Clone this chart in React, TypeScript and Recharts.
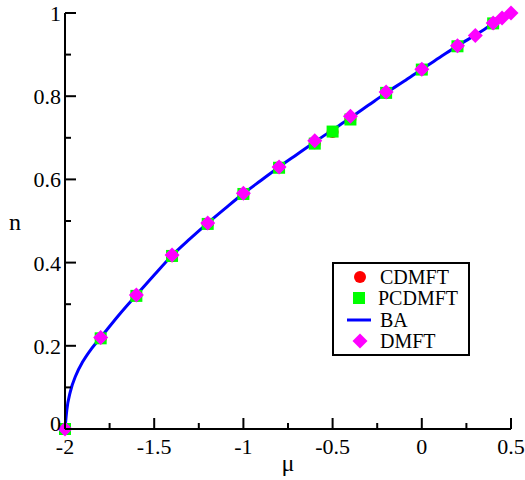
import React from 'react';
import { ComposedChart, Line, Scatter, XAxis, YAxis, Legend } from 'recharts';

// values
const cdmftMu = [-2, -1.8, -1.6, -1.4, -1.2, -1.0, -0.8, -0.6, -0.5, -0.4, -0.2, 0, 0.2, 0.4];
const cdmftN = [0, 0.218, 0.321, 0.415, 0.493, 0.565, 0.629, 0.687, 0.714, 0.745, 0.808, 0.864, 0.92, 0.975];
const pcdmftMu = [-2, -1.8, -1.6, -1.4, -1.2, -1.0, -0.8, -0.6, -0.5, -0.4, -0.2, 0, 0.2, 0.4];
const pcdmftN = [0, 0.218, 0.32, 0.416, 0.493, 0.565, 0.628, 0.686, 0.715, 0.744, 0.808, 0.864, 0.92, 0.975];
const dmftMu = [-2, -1.8, -1.6, -1.4, -1.2, -1.0, -0.8, -0.6, -0.4, -0.2, 0, 0.2, 0.3, 0.4, 0.45, 0.5];
const dmftN = [0, 0.22, 0.322, 0.418, 0.495, 0.567, 0.63, 0.693, 0.752, 0.81, 0.865, 0.921, 0.946, 0.976, 0.988, 1.0];
const baMu = [-2, -1.99, -1.97, -1.94, -1.9, -1.85, -1.8, -1.7, -1.6, -1.5, -1.4, -1.3, -1.2, -1.1, -1.0, -0.9, -0.8, -0.7, -0.6, -0.5, -0.4, -0.3, -0.2, -0.1, 0, 0.1, 0.2, 0.3, 0.4, 0.5];
const baN = [0, 0.045, 0.09, 0.128, 0.162, 0.194, 0.22, 0.273, 0.322, 0.37, 0.417, 0.457, 0.495, 0.531, 0.566, 0.598, 0.63, 0.66, 0.69, 0.719, 0.748, 0.778, 0.808, 0.836, 0.865, 0.893, 0.921, 0.947, 0.974, 1.0];

const xTicks = [-2, -1.75, -1.5, -1.25, -1, -0.75, -0.5, -0.25, 0, 0.25, 0.5];
const xLabels = ['-2', '-1.5', '-1', '-0.5', '0', '0.5'];
const yTicks = [0, 0.1, 0.2, 0.3, 0.4, 0.5, 0.6, 0.7, 0.8, 0.9, 1];
const yLabels = ['0', '0.2', '0.4', '0.6', '0.8', '1'];

const zip = (mu: number[], n: number[]) => mu.map((m, i) => ({ mu: m, n: n[i] }));
const cdmftData = zip(cdmftMu, cdmftN);
const pcdmftData = zip(pcdmftMu, pcdmftN);
const dmftData = zip(dmftMu, dmftN);
const baData = zip(baMu, baN);

const FONT = "Liberation Serif, DejaVu Serif, Times New Roman, serif";

const isMajor = (v: number, labels: string[]) => labels.includes(String(v));

const BottomTick = (p: any) => {
  const major = isMajor(p.payload.value, xLabels);
  return (
    <g>
      <line x1={p.x} x2={p.x} y1={p.y} y2={p.y - (major ? 11 : 6)} stroke="#000" strokeWidth={2} />
      {major && (
        <text x={p.x} y={p.y + 25} textAnchor="middle" fontSize={22} style={{ fontFamily: FONT }} fill="#000">
          {String(p.payload.value)}
        </text>
      )}
    </g>
  );
};

const TopTick = (p: any) => {
  const major = isMajor(p.payload.value, xLabels);
  return <line x1={p.x} x2={p.x} y1={p.y} y2={p.y + (major ? 11 : 6)} stroke="#000" strokeWidth={2} />;
};

const LeftTick = (p: any) => {
  const major = isMajor(p.payload.value, yLabels);
  const v = p.payload.value;
  return (
    <g>
      <line x1={p.x} x2={p.x + (major ? 11 : 6)} y1={p.y} y2={p.y} stroke="#000" strokeWidth={2} />
      {major && (
        <text x={p.x - 4} y={p.y + (v === 0 ? 2 : 8)} textAnchor="end" fontSize={22} style={{ fontFamily: FONT }} fill="#000">
          {String(v)}
        </text>
      )}
    </g>
  );
};

const RightTick = (p: any) => {
  const major = isMajor(p.payload.value, yLabels);
  return <line x1={p.x} x2={p.x - (major ? 11 : 6)} y1={p.y} y2={p.y} stroke="#000" strokeWidth={2} />;
};

const Circle = (p: any) => <circle cx={p.cx} cy={p.cy} r={6} fill="#ff0000" />;
const Square = (p: any) => <rect x={p.cx - 6} y={p.cy - 6} width={12} height={12} fill="#00ff00" />;
const Diamond = (p: any) => (
  <polygon
    points={`${p.cx},${p.cy - 7.5} ${p.cx + 7.5},${p.cy} ${p.cx},${p.cy + 7.5} ${p.cx - 7.5},${p.cy}`}
    fill="#ff00ff"
  />
);

const LegendBox = () => {
  const row = { display: 'flex', alignItems: 'center', height: 21.5, whiteSpace: 'nowrap' } as const;
  const sym = { width: 40, display: 'flex', justifyContent: 'center' } as const;
  return (
    <div
      style={{
        border: '2px solid #000',
        background: '#fff',
        padding: '2px 10px 2px 6px',
        fontFamily: FONT,
        fontSize: 20,
        lineHeight: '20px',
        color: '#000',
      }}
    >
      <div style={row}>
        <span style={sym}><svg width={14} height={14}><circle cx={7} cy={7} r={6} fill="#ff0000" /></svg></span>
        CDMFT
      </div>
      <div style={row}>
        <span style={sym}><svg width={14} height={14}><rect x={1} y={1} width={12} height={12} fill="#00ff00" /></svg></span>
        PCDMFT
      </div>
      <div style={row}>
        <span style={sym}><svg width={26} height={6}><line x1={0} x2={24} y1={3} y2={3} stroke="#0000ff" strokeWidth={3} /></svg></span>
        BA
      </div>
      <div style={row}>
        <span style={sym}><svg width={16} height={16}><polygon points="8,0.5 15.5,8 8,15.5 0.5,8" fill="#ff00ff" /></svg></span>
        DMFT
      </div>
    </div>
  );
};

export default function App() {
  return (
    <div style={{ position: 'absolute', left: 0, top: 0, background: '#fff', fontFamily: FONT }}>
      <ComposedChart width={525} height={480} margin={{ top: 13, right: 14, left: 5, bottom: 5 }}>
        <XAxis
          dataKey="mu"
          type="number"
          domain={[-2, 0.5]}
          ticks={xTicks}
          interval={0}
          height={46}
          tickSize={0}
          tickMargin={0}
          tickLine={false}
          axisLine={{ stroke: '#000', strokeWidth: 2 }}
          tick={BottomTick}
          label={{ value: 'μ', position: 'insideBottom', offset: 4, fontSize: 24, style: { fontFamily: FONT }, fill: '#000' }}
        />
        <XAxis
          xAxisId="top"
          orientation="top"
          type="number"
          domain={[-2, 0.5]}
          ticks={xTicks}
          interval={0}
          height={0}
          tickSize={0}
          tickMargin={0}
          tickLine={false}
          axisLine={{ stroke: '#000', strokeWidth: 2 }}
          tick={TopTick}
        />
        <YAxis
          dataKey="n"
          type="number"
          domain={[0, 1]}
          ticks={yTicks}
          interval={0}
          width={60}
          tickSize={0}
          tickMargin={0}
          tickLine={false}
          axisLine={{ stroke: '#000', strokeWidth: 2 }}
          tick={LeftTick}
          label={{ value: 'n', position: 'insideLeft', offset: 4, fontSize: 24, style: { fontFamily: FONT }, fill: '#000' }}
        />
        <YAxis
          yAxisId="right"
          orientation="right"
          type="number"
          domain={[0, 1]}
          ticks={yTicks}
          interval={0}
          width={0}
          tickSize={0}
          tickMargin={0}
          tickLine={false}
          axisLine={{ stroke: '#000', strokeWidth: 2 }}
          tick={RightTick}
        />
        <Scatter name="CDMFT" data={cdmftData} shape={Circle} isAnimationActive={false} />
        <Scatter name="PCDMFT" data={pcdmftData} shape={Square} isAnimationActive={false} />
        <Line
          name="BA"
          data={baData}
          dataKey="n"
          type="monotone"
          stroke="#0000ff"
          strokeWidth={3}
          dot={false}
          activeDot={false}
          isAnimationActive={false}
        />
        <Scatter name="DMFT" data={dmftData} shape={Diamond} isAnimationActive={false} />
        <Legend
          layout="vertical"
          align="center"
          verticalAlign="middle"
          content={LegendBox}
          wrapperStyle={{ left: 332, top: 262, width: 138 }}
        />
      </ComposedChart>
    </div>
  );
}
